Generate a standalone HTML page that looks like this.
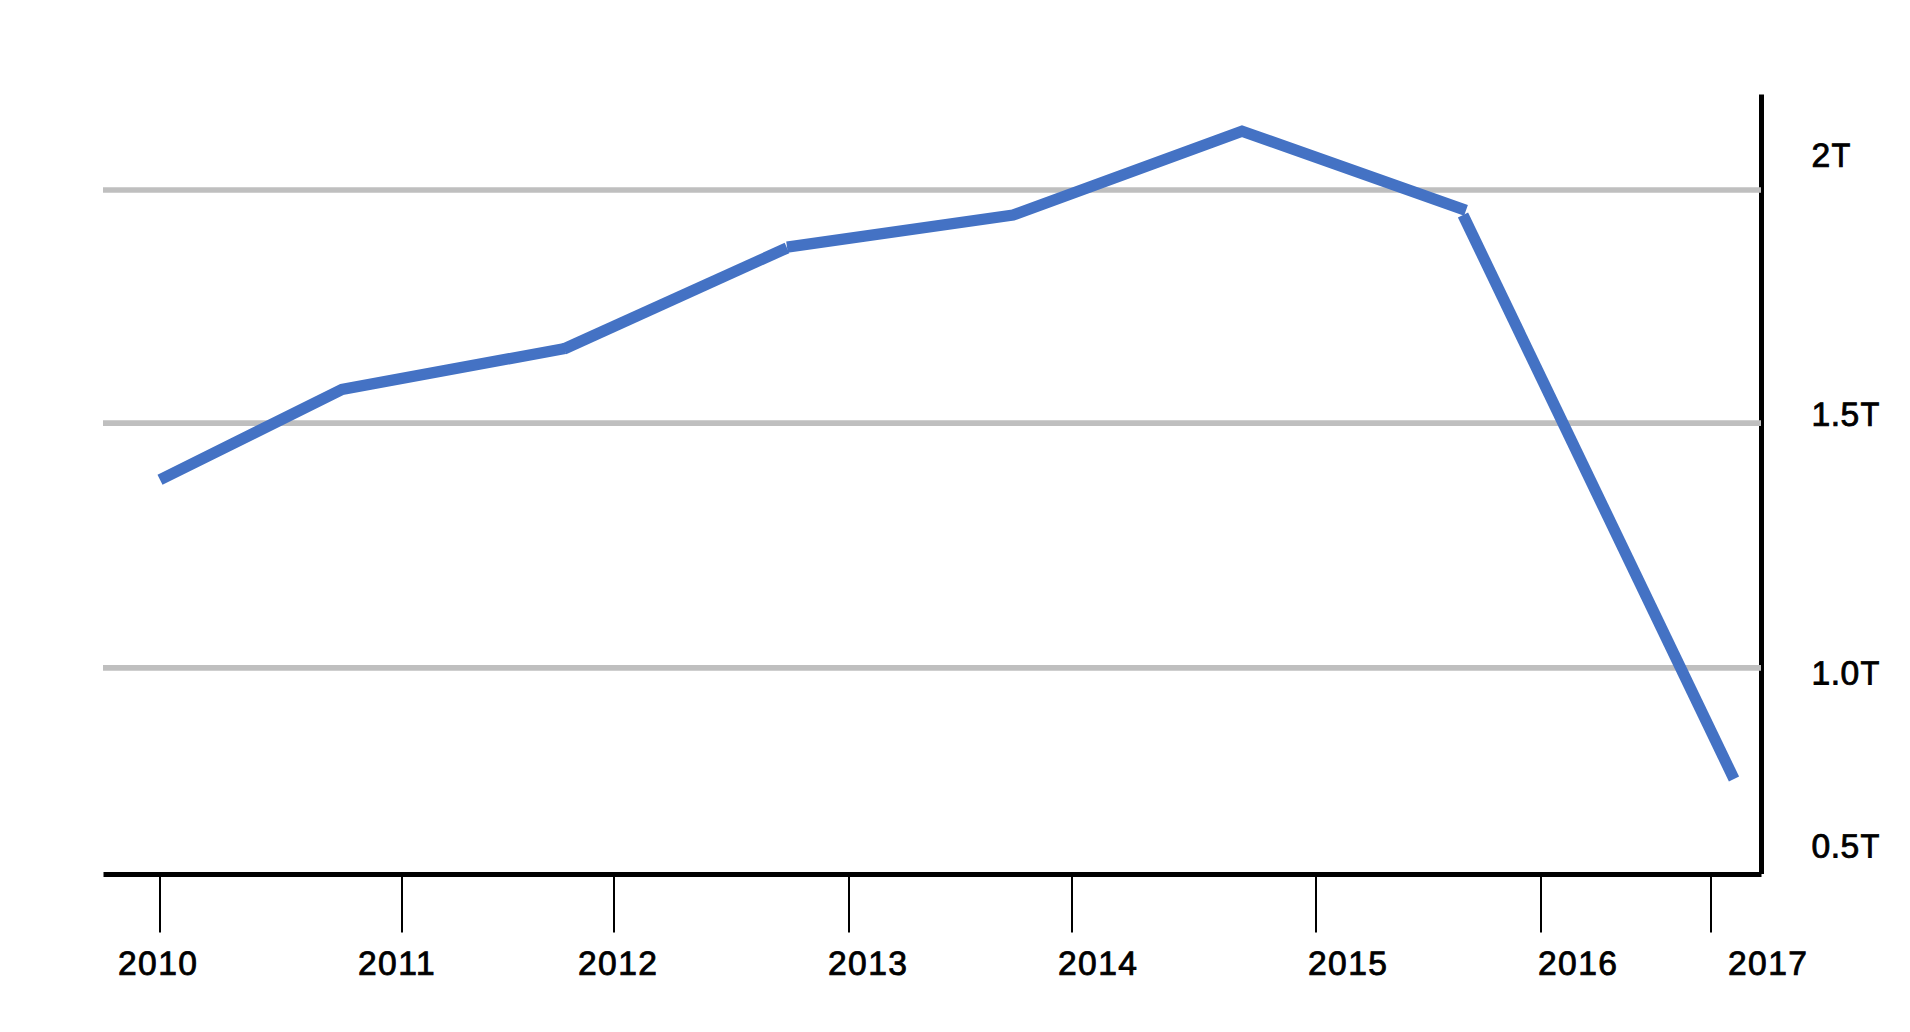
<!DOCTYPE html>
<html>
<head>
<meta charset="utf-8">
<title>Chart</title>
<style>
html,body{margin:0;padding:0;background:#fff;}
body{width:1910px;height:1032px;overflow:hidden;}
svg{display:block;}
text{font-family:"Liberation Sans",sans-serif;font-size:33.6px;fill:#000;stroke:#000;stroke-width:0.85px;stroke-linejoin:miter;letter-spacing:1.45px;}
.yl text{letter-spacing:0.5px;}
</style>
</head>
<body>
<svg width="1910" height="1032" viewBox="0 0 1910 1032">
<rect width="1910" height="1032" fill="#ffffff"/>
<!-- axes -->
<g stroke="#000" stroke-width="5" fill="none">
<line x1="1761.5" y1="94.4" x2="1761.5" y2="874"/>
<line x1="103.5" y1="874.5" x2="1761.5" y2="874.5"/>
</g>
<!-- gridlines -->
<g stroke="#bfbfbf" stroke-width="5.7" fill="none">
<line x1="103" y1="190" x2="1761" y2="190"/>
<line x1="103" y1="423.1" x2="1761" y2="423.1"/>
<line x1="103" y1="667.9" x2="1761" y2="667.9"/>
</g>
<!-- ticks -->
<g stroke="#000" stroke-width="2" fill="none">
<line x1="160" y1="877" x2="160" y2="932.5"/>
<line x1="402" y1="877" x2="402" y2="932.5"/>
<line x1="614" y1="877" x2="614" y2="932.5"/>
<line x1="849" y1="877" x2="849" y2="932.5"/>
<line x1="1072" y1="877" x2="1072" y2="932.5"/>
<line x1="1316" y1="877" x2="1316" y2="932.5"/>
<line x1="1541" y1="877" x2="1541" y2="932.5"/>
<line x1="1711" y1="877" x2="1711" y2="932.5"/>
</g>
<!-- data line -->
<g stroke="#4472c4" stroke-width="11.3" fill="none" stroke-linecap="butt" stroke-linejoin="miter" stroke-miterlimit="10">
<path d="M160,479.7 L342,389.5 L565,348.5"/>
<path d="M563.9,349 L787,248"/>
<path d="M787,247.2 L1013,215 L1242,131.2 L1466,210.4"/>
<path d="M1463,215 L1734,779"/>
</g>
<!-- y labels -->
<g class="yl">
<text x="1811.5" y="166.8" transform="rotate(0.05 1849.5 166.8)">2<tspan dx="0.8" textLength="19.3" lengthAdjust="spacingAndGlyphs">T</tspan></text>
<text x="1811.5" y="425.75" transform="rotate(0.05 1849.5 425.75)">1.5<tspan dx="0.8" textLength="19.3" lengthAdjust="spacingAndGlyphs">T</tspan></text>
<text x="1811.5" y="684.5" transform="rotate(0.05 1849.5 684.5)">1.0<tspan dx="0.8" textLength="19.3" lengthAdjust="spacingAndGlyphs">T</tspan></text>
<text x="1811.5" y="857.5" transform="rotate(0.05 1849.5 857.5)">0.5<tspan dx="0.8" textLength="19.3" lengthAdjust="spacingAndGlyphs">T</tspan></text>
</g>
<!-- x labels -->
<text x="118.0" y="974.8" transform="rotate(0.05 156.0 974.8)">2010</text>
<text x="358.0" y="974.8" transform="rotate(0.05 396.0 974.8)">2011</text>
<text x="578.0" y="974.8" transform="rotate(0.05 616.0 974.8)">2012</text>
<text x="828.0" y="974.8" transform="rotate(0.05 866.0 974.8)">2013</text>
<text x="1058.0" y="974.8" transform="rotate(0.05 1096.0 974.8)">2014</text>
<text x="1308.0" y="974.8" transform="rotate(0.05 1346.0 974.8)">2015</text>
<text x="1538.0" y="974.8" transform="rotate(0.05 1576.0 974.8)">2016</text>
<text x="1728.0" y="974.8" transform="rotate(0.05 1766.0 974.8)">2017</text>
</svg>
</body>
</html>
